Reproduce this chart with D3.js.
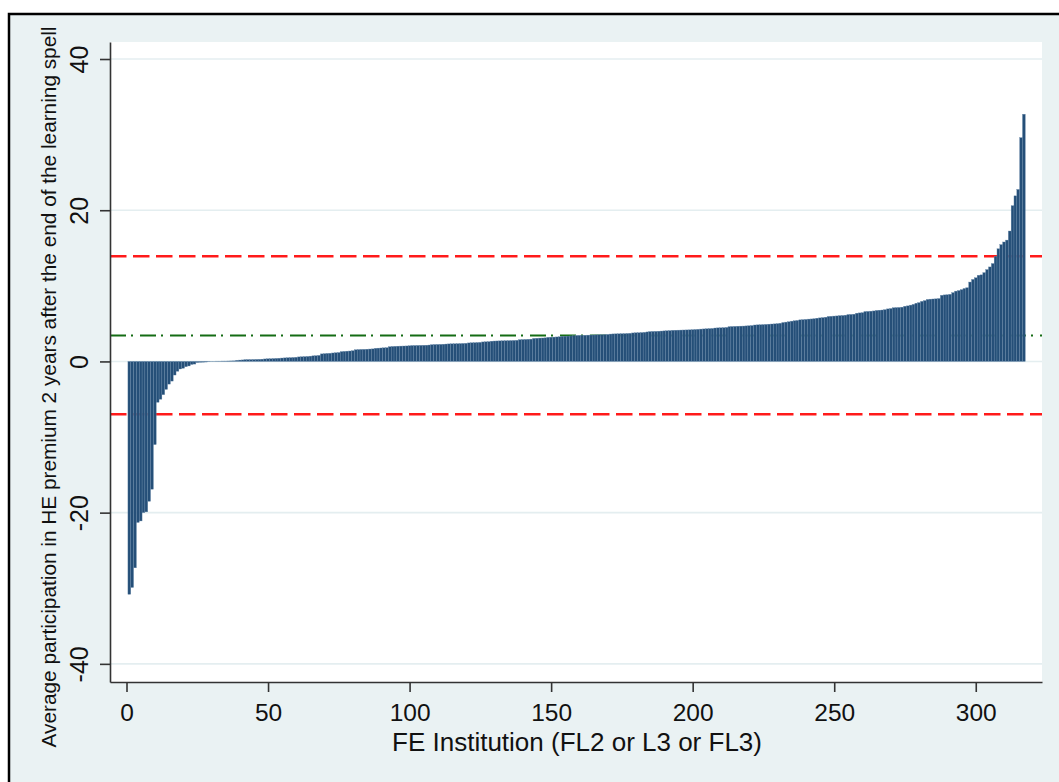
<!DOCTYPE html>
<html>
<head>
<meta charset="utf-8">
<script src="https://cdn.jsdelivr.net/npm/d3@7"></script>
<style>
  body { margin: 0; background: #fff; }
  svg { display: block; }
  text { font-family: "Liberation Sans", Arial, sans-serif; fill: #111; }
</style>
</head>
<body>
<svg id="chart" width="1059" height="782"></svg>
<script>
// premium per FE institution, sorted ascending
const lowerTail = [
  -30.8, -29.9, -27.3, -21.3, -21.1, -20.0, -19.9, -18.5, -16.9, -11.0, -5.4, -5.0, -4.4, -3.7, -3.0, -2.6,
  -1.8, -1.3, -1.0, -0.9, -0.7, -0.6, -0.4, -0.35, -0.15, -0.12, -0.1, -0.08, -0.05,
  0.03, 0.03, 0.04, 0.04, 0.05, 0.05, 0.06, 0.07, 0.08
];
const middle = [
  0.15, 0.18, 0.2, 0.24, 0.25, 0.25, 0.26, 0.27, 0.28, 0.3,
  0.33, 0.35, 0.36, 0.38, 0.4, 0.42, 0.45, 0.47, 0.49, 0.5, 0.52, 0.55, 0.6, 0.62, 0.64, 0.66, 0.7, 0.74, 0.76, 0.8,
  1.0, 1.03, 1.06, 1.08, 1.12, 1.15, 1.18, 1.3, 1.33, 1.36, 1.38, 1.42, 1.55, 1.57, 1.59, 1.6, 1.62, 1.64, 1.66,
  1.74, 1.76, 1.78, 1.8, 1.82,
  1.95, 1.98, 2.0, 2.02, 2.03, 2.04, 2.05, 2.07, 2.1, 2.11, 2.12, 2.13, 2.14, 2.15, 2.17,
  2.22, 2.24, 2.25, 2.26, 2.28, 2.3, 2.32, 2.33, 2.34, 2.35, 2.36, 2.38, 2.4,
  2.45, 2.47, 2.48, 2.5, 2.52, 2.58, 2.6, 2.62,
  2.68, 2.7, 2.71, 2.72, 2.73, 2.74, 2.75, 2.76, 2.78, 2.8, 2.88, 2.9, 2.91, 2.93, 2.95,
  3.05, 3.07, 3.09, 3.1, 3.12, 3.19, 3.21, 3.22, 3.24, 3.26, 3.32, 3.34, 3.35, 3.37, 3.4,
  3.44, 3.45, 3.46, 3.47, 3.48, 3.49, 3.5, 3.51, 3.52, 3.53, 3.55, 3.58,
  3.62, 3.64, 3.65, 3.66, 3.67, 3.68, 3.7, 3.72, 3.77, 3.79, 3.8, 3.82, 3.85, 3.9,
  3.95, 3.97, 3.98, 4.0, 4.02, 4.04, 4.06, 4.08,
  4.12, 4.13, 4.14, 4.15, 4.16, 4.17, 4.18, 4.2, 4.22, 4.25, 4.28,
  4.3, 4.32, 4.34, 4.36, 4.42, 4.44, 4.45, 4.47, 4.5,
  4.6, 4.62, 4.64, 4.66, 4.67, 4.68, 4.7, 4.72, 4.75, 4.82, 4.84, 4.85, 4.87, 4.9,
  4.93, 4.95, 4.97, 5.0, 5.05, 5.15, 5.2, 5.25, 5.33, 5.38, 5.42,
  5.5, 5.53, 5.56, 5.6, 5.62, 5.65, 5.72, 5.76, 5.8, 5.85,
  5.95, 5.97, 6.0, 6.02, 6.06, 6.08, 6.12, 6.2, 6.22, 6.25, 6.38, 6.42, 6.45,
  6.6, 6.62, 6.65, 6.68, 6.75, 6.78, 6.8, 6.85, 6.95, 7.0,
  7.1, 7.12, 7.14, 7.18, 7.3, 7.35, 7.45, 7.55, 7.7, 7.78, 7.95, 8.05,
  8.2, 8.24, 8.26, 8.28, 8.32, 8.75, 8.8, 8.82, 8.88
];
const upperTail = [
  9.1, 9.3, 9.38, 9.5, 9.65, 9.75,
  10.5, 10.85, 11.07, 11.4, 11.45, 11.75, 12.15, 12.5, 12.95, 13.9,
  14.9, 15.45, 15.8, 16.05, 17.25, 20.6, 21.9, 22.75, 29.6, 32.7
];

const meanLine = 3.44;
const bandLines = [13.9, -7.0];
const xTicks = [0, 50, 100, 150, 200, 250, 300];
const yTicks = [-40, -20, 0, 20, 40];
const xTitle = "FE Institution (FL2 or L3 or FL3)";
const yTitle = "Average participation in HE premium 2 years after the end of the learning spell";

const premium = lowerTail.concat(middle, upperTail);
const bars = premium.map((v, i) => ({ inst: i + 1, value: v }));

const W = 1059, H = 782;
const plot = { left: 110, right: 1042, top: 42, bottom: 682 };

const svg = d3.select("#chart");

// outer graph region
svg.append("rect")
  .attr("x", 9).attr("y", 14)
  .attr("width", W + 20).attr("height", H + 20)
  .attr("fill", "#eaf2f3")
  .attr("stroke", "#000")
  .attr("stroke-width", 2.5);

svg.append("rect")
  .attr("x", plot.left).attr("y", plot.top)
  .attr("width", plot.right - plot.left)
  .attr("height", plot.bottom - plot.top)
  .attr("fill", "#fff");

const x = d3.scaleLinear().domain([-5.83, 323.4]).range([plot.left, plot.right]);
const y = d3.scaleLinear().domain([-42.4, 42.25]).range([plot.bottom, plot.top]);

// grid
svg.append("g")
  .selectAll("line")
  .data(yTicks)
  .join("line")
  .attr("x1", plot.left).attr("x2", plot.right)
  .attr("y1", d => y(d)).attr("y2", d => y(d))
  .attr("stroke", "#e4eef0")
  .attr("stroke-width", 1.6);

// reference lines (behind bars)
svg.append("g")
  .selectAll("line")
  .data(bandLines)
  .join("line")
  .attr("x1", plot.left).attr("x2", plot.right)
  .attr("y1", d => y(d)).attr("y2", d => y(d))
  .attr("stroke", "#ff1a1a")
  .attr("stroke-width", 2.5)
  .attr("stroke-dasharray", "16.5,6.5");

svg.append("line")
  .attr("x1", plot.left).attr("x2", plot.right)
  .attr("y1", y(meanLine)).attr("y2", y(meanLine))
  .attr("stroke", "#146c14")
  .attr("stroke-width", 2)
  .attr("stroke-dasharray", "16,5,2,7");

// bars
const bw = x(1) - x(0);
svg.append("g")
  .selectAll("rect")
  .data(bars)
  .join("rect")
  .attr("x", d => x(d.inst) - bw / 2)
  .attr("width", bw)
  .attr("y", d => y(Math.max(0, d.value)))
  .attr("height", d => Math.abs(y(d.value) - y(0)))
  .attr("fill", "#254f78")
  .attr("stroke", "#6a8bab")
  .attr("stroke-width", 0.35);

// axes
const yAxis = svg.append("g")
  .attr("transform", `translate(${plot.left},0)`)
  .call(d3.axisLeft(y).tickValues(yTicks).tickFormat(d => String(d)).tickSize(10).tickSizeOuter(0));
yAxis.selectAll("text")
  .attr("x", null).attr("dy", null)
  .attr("text-anchor", "middle")
  .attr("transform", "translate(-22,0) rotate(-90)")
  .style("font-size", "25px");

const xAxis = svg.append("g")
  .attr("transform", `translate(0,${plot.bottom})`)
  .call(d3.axisBottom(x).tickValues(xTicks).tickFormat(d => String(d)).tickSize(10).tickSizeOuter(0));
xAxis.selectAll("text")
  .attr("y", 38.5).attr("dy", null)
  .style("font-size", "24.5px");

[yAxis, xAxis].forEach(a => {
  a.select(".domain").attr("stroke", "#333").attr("stroke-width", 1.6);
  a.selectAll(".tick line").attr("stroke", "#333").attr("stroke-width", 1.6);
  a.selectAll("text").attr("font-family", null).attr("fill", "#111");
});

// titles
svg.append("text")
  .attr("x", (plot.left + plot.right) / 2 + 1)
  .attr("y", 751)
  .attr("text-anchor", "middle")
  .style("font-size", "26px")
  .text(xTitle);

svg.append("text")
  .attr("transform", "translate(55.5,387) rotate(-90)")
  .attr("text-anchor", "middle")
  .style("font-size", "20.8px")
  .text(yTitle);
</script>
</body>
</html>
